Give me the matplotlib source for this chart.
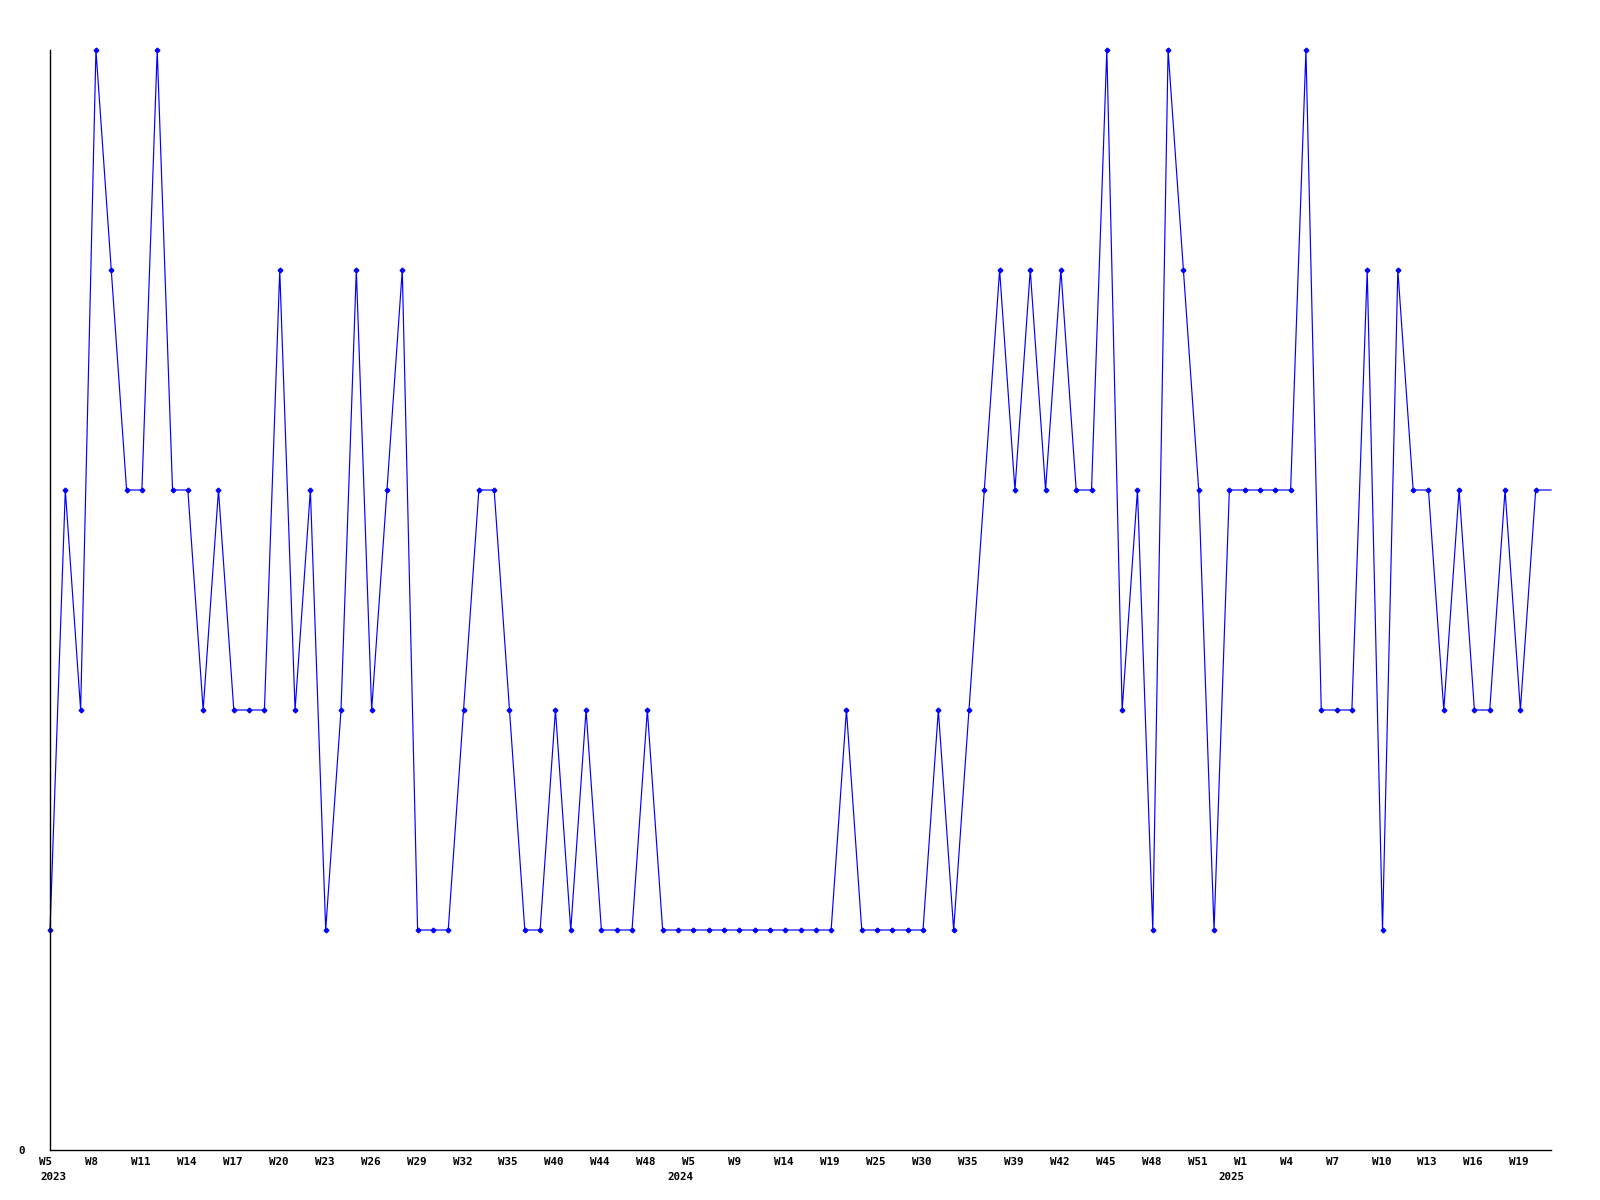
import matplotlib
matplotlib.use("Agg")
import matplotlib.pyplot as plt
import matplotlib.transforms as mtransforms

# weekly values, one per data point (weeks without data are skipped)
values = [1, 3, 2, 5, 4, 3, 3, 5, 3, 3,
          2, 3, 2, 2, 2, 4, 2, 3, 1, 2,
          4, 2, 3, 4, 1, 1, 1, 2, 3, 3,
          2, 1, 1, 2, 1, 2, 1, 1, 1, 2,
          1, 1, 1, 1, 1, 1, 1, 1, 1, 1,
          1, 1, 2, 1, 1, 1, 1, 1, 2, 1,
          2, 3, 4, 3, 4, 3, 4, 3, 3, 5,
          2, 3, 1, 5, 4, 3, 1, 3, 3, 3,
          3, 3, 5, 2, 2, 2, 4, 1, 4, 3,
          3, 2, 3, 2, 2, 3, 2, 3, 3]

# a label every third point
week_labels = ["W5", "W8", "W11", "W14", "W17", "W20", "W23", "W26", "W29",
               "W32", "W35", "W40", "W44", "W48", "W5", "W9", "W14", "W19",
               "W25", "W30", "W35", "W39", "W42", "W45", "W48", "W51", "W1",
               "W4", "W7", "W10", "W13", "W16", "W19"]
year_labels = {0: "2023", 14: "2024", 26: "2025"}  # keyed by label number
label_step = 3

fig = plt.figure(figsize=(16, 12), dpi=100)
ax = fig.add_axes([50 / 1600, 50 / 1200, 1501 / 1600, 1100 / 1200])

x = list(range(len(values)))
ax.plot(x, values, color="#0000ff", lw=0.85, marker="D", ms=2.4,
        markevery=list(range(len(values) - 1)), clip_on=False)

ax.set_xlim(0, len(values) - 1)
ax.set_ylim(0, 5)

for side in ["top", "right"]:
    ax.spines[side].set_visible(False)
for side in ["left", "bottom"]:
    ax.spines[side].set_color("black")
    ax.spines[side].set_linewidth(1.0)

font = dict(family="DejaVu Sans Mono", weight="bold", size=7.8)

ax.set_yticks([0])
ax.set_yticklabels(["0"], **font)
ax.tick_params(axis="y", length=0, pad=18)

tick_pos = [i * label_step for i in range(len(week_labels))]
ax.set_xticks(tick_pos)
ax.set_xticklabels(week_labels, **font)
ax.tick_params(axis="x", length=0, pad=5)
shift = mtransforms.ScaledTranslation(-11 / 100, 0, fig.dpi_scale_trans)
for lab in ax.get_xticklabels():
    lab.set_horizontalalignment("left")
    lab.set_transform(lab.get_transform() + shift)

base = mtransforms.blended_transform_factory(ax.transData, ax.transAxes)
for k, yr in year_labels.items():
    # the first year label is kept inside the picture, the others sit left of the tick
    dx = -10 if k == 0 else -26
    trans = base + mtransforms.ScaledTranslation(dx / 100, 0, fig.dpi_scale_trans)
    ax.text(tick_pos[k], -22 / 1100, yr, transform=trans, ha="left", va="top",
            **font)

fig.savefig("out.png", dpi=100)
